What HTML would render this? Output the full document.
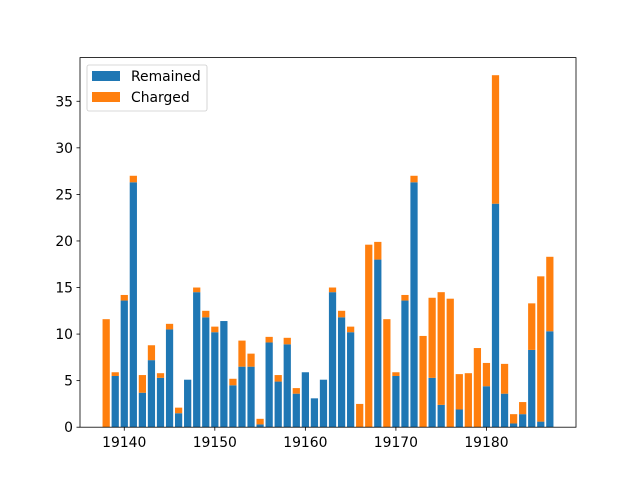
<!DOCTYPE html>
<html><head><meta charset="utf-8"><style>
body{margin:0;background:#fff}svg{display:block;font-family:"DejaVu Sans","Liberation Sans",sans-serif}
</style></head><body>
<svg id="chart" width="640" height="480"></svg>
<script>
const categories=[];for(let d=19138;d<=19187;d++)categories.push(d);
const remained=[0,5.5,13.6,26.3,3.7,7.2,5.3,10.5,1.5,5.1,14.5,11.8,10.2,11.4,4.5,6.5,6.5,0.3,9.1,4.9,8.9,3.6,5.9,3.1,5.1,14.5,11.8,10.2,0,0,18.0,0,5.5,13.6,26.3,0,5.3,2.4,0,1.9,0,0,4.4,24.0,3.6,0.4,1.4,8.3,0.6,10.3];
const charged=[11.6,0.4,0.6,0.7,1.9,1.6,0.5,0.6,0.6,0,0.5,0.7,0.6,0,0.7,2.8,1.4,0.6,0.6,0.7,0.7,0.6,0,0,0,0.5,0.7,0.6,2.5,19.6,1.9,11.6,0.4,0.6,0.7,9.8,8.6,12.1,13.8,3.8,5.8,8.5,2.5,13.8,3.2,1.0,1.3,5.0,15.6,8.0];
const yTicks=[0,5,10,15,20,25,30,35];
const xTicks=[19140,19150,19160,19170,19180];
const NS="http://www.w3.org/2000/svg";
const svg=document.getElementById('chart');
const L=80,R=576,T=57.6,B=427.2;
const x0=categories[0]-0.4,x1=categories[categories.length-1]+0.4,xm=(x1-x0)*0.05;
const xmin=x0-xm,xmax=x1+xm;
let maxT=0;categories.forEach((c,i)=>{maxT=Math.max(maxT,remained[i]+charged[i]);});
const ymax=maxT*1.05;
const X=v=>L+(v-xmin)/(xmax-xmin)*(R-L);
const Y=v=>B-v/ymax*(B-T);
function mk(t,a,p){const e=document.createElementNS(NS,t);for(const k in a)e.setAttribute(k,a[k]);(p||svg).appendChild(e);return e;}
categories.forEach((c,i)=>{
 const w=X(c+0.4)-X(c-0.4);
 const b=mk('rect',{x:X(c-0.4),y:Y(remained[i]),width:w,height:B-Y(remained[i]),fill:'#1f77b4'});
 
 
 const o=mk('rect',{x:X(c-0.4),y:Y(remained[i]+charged[i]),width:w,height:Y(remained[i])-Y(remained[i]+charged[i]),fill:'#ff7f0e'});
 
 
});
const frame=mk('rect',{x:L,y:T,width:R-L,height:B-T,fill:'none',stroke:'#000','stroke-width':0.8});


yTicks.forEach(v=>{
 const y=Y(v);
 const t=mk('line',{x1:L-3.5,x2:L,y1:y,y2:y,stroke:'#000','stroke-width':0.8});
 
 
 const l=mk('text',{x:L-7,y:y+5,'text-anchor':'end','font-size':13.9,fill:'#000'});l.textContent=v;
 
 
});
xTicks.forEach(v=>{
 const x=X(v);
 const t=mk('line',{x1:x,x2:x,y1:B,y2:B+3.5,stroke:'#000','stroke-width':0.8});
 
 
 const l=mk('text',{x:x,y:B+20,'text-anchor':'middle','font-size':13.9,fill:'#000'});l.textContent=v;
 
 
});
const lg=mk('g',{});


mk('rect',{x:87,y:65,width:120,height:46,rx:2,fill:'#fff','fill-opacity':0.8,stroke:'#ccc','stroke-width':0.8},lg);
[['Remained','#1f77b4',71],['Charged','#ff7f0e',92]].forEach(([n,c,y])=>{
 const e=mk('g',{},lg);
 
 
 mk('rect',{x:92,y:y,width:28,height:10,fill:c},e);
 const t=mk('text',{x:131,y:y+10,'font-size':13.9,fill:'#000'},e);t.textContent=n;
});
</script>
</body></html>
